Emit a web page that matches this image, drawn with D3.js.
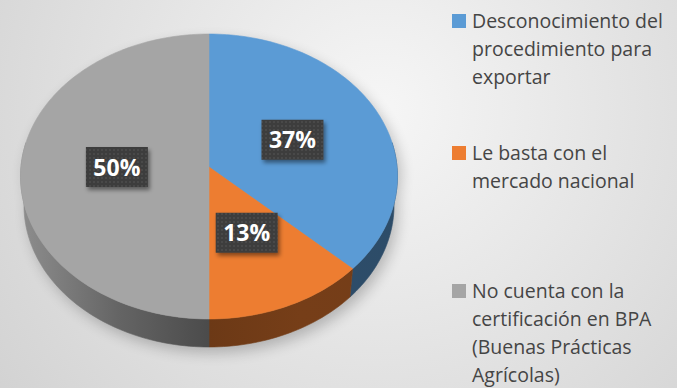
<!DOCTYPE html>
<html>
<head>
<meta charset="utf-8">
<script src="https://cdn.jsdelivr.net/npm/d3@7"></script>
<style>
  html, body { margin: 0; padding: 0; overflow: hidden; }
  svg { display: block; }
</style>
</head>
<body>
<svg id="chart" width="677" height="388"></svg>
<script>
// Survey: reasons for not exporting
const categories = [
  "Desconocimiento del procedimiento para exportar",
  "Le basta con el mercado nacional",
  "No cuenta con la certificación en BPA (Buenas Prácticas Agrícolas)"
];
const legendLines = [
  ["Desconocimiento del", "procedimiento para", "exportar"],
  ["Le basta con el", "mercado nacional"],
  ["No cuenta con la", "certificación en BPA", "(Buenas Prácticas", "Agrícolas)"]
];
const values = [37, 13, 50];
const colors = ["#5b9bd5", "#ed7d31", "#a5a5a5"];

const W = 677, H = 388;
const svg = d3.select("#chart");
const defs = svg.append("defs");

// Background wash
const bg = defs.append("radialGradient").attr("id", "bg")
  .attr("gradientUnits", "userSpaceOnUse")
  .attr("cx", 380).attr("cy", 110).attr("r", 480);
bg.append("stop").attr("offset", 0).attr("stop-color", "#f6f6f6");
bg.append("stop").attr("offset", 1).attr("stop-color", "#d2d2d2");
svg.append("rect").attr("width", W).attr("height", H).attr("fill", "url(#bg)");

// Perspective projection of the tilted disc
const cx = 209, cy = 167;
const tilt = Math.asin(0.7543);
const cs = Math.cos(tilt), sn = Math.sin(tilt);
const camD = 9.85, focal = 1852, thick = 0.2386;
function proj(a, r, y) {
  const X = r * Math.sin(a), Z = -r * Math.cos(a);
  const u = y * cs - Z * sn;
  const v = y * sn + Z * cs;
  const dist = camD - v;
  return [cx + focal * X / dist, cy - focal * u / dist];
}
function rim(a0, a1, y, n) {
  const pts = [];
  for (let i = 0; i <= n; i++) pts.push(proj(a0 + (a1 - a0) * i / n, 1, y));
  return pts;
}

const pie = d3.pie().sort(null).value(d => d)(values);
const line = d3.line();

// Soft shadow under the disc
defs.append("filter").attr("id", "blurShadow")
  .attr("x", "-20%").attr("y", "-20%").attr("width", "140%").attr("height", "140%")
  .append("feGaussianBlur").attr("stdDeviation", 7);
const silhouette = rim(-Math.PI / 2, Math.PI / 2, 0, 80)
  .concat(rim(Math.PI / 2, 3 * Math.PI / 2, -thick, 80));
svg.append("path")
  .attr("d", line(silhouette) + "Z")
  .attr("transform", "translate(4,6)")
  .attr("fill", "#000").attr("opacity", 0.22)
  .attr("filter", "url(#blurShadow)");

// Side wall shading along x
const shadeStops = [[22, 0.45], [120, 1.4], [209, 2.2], [300, 1.95], [400, 2.0]];
pie.forEach((d, i) => {
  const g = defs.append("linearGradient").attr("id", "wall" + i)
    .attr("gradientUnits", "userSpaceOnUse")
    .attr("x1", 22).attr("x2", 400).attr("y1", 0).attr("y2", 0);
  shadeStops.forEach(([x, k]) => {
    g.append("stop").attr("offset", (x - 22) / 378)
      .attr("stop-color", d3.color(colors[i]).darker(k).formatHex());
  });
});

// Front walls
const lo = 80 * Math.PI / 180, hi = 280 * Math.PI / 180;
const walls = svg.append("g");
pie.forEach((d, i) => {
  const a0 = Math.max(d.startAngle, lo), a1 = Math.min(d.endAngle, hi);
  if (a1 <= a0) return;
  const n = Math.max(4, Math.round((a1 - a0) * 40));
  const pts = rim(a0, a1, 0, n).concat(rim(a1, a0, -thick, n));
  walls.append("path").attr("d", line(pts) + "Z")
    .attr("fill", `url(#wall${i})`)
    .attr("stroke", `url(#wall${i})`).attr("stroke-width", 0.6);
});

// Top faces
const tops = svg.append("g");
pie.forEach((d, i) => {
  const n = Math.max(4, Math.round((d.endAngle - d.startAngle) * 40));
  const pts = [proj(0, 0, 0)].concat(rim(d.startAngle, d.endAngle, 0, n));
  tops.append("path").attr("d", line(pts) + "Z")
    .attr("fill", colors[i])
    .attr("stroke", colors[i]).attr("stroke-width", 0.6);
});

// Data label boxes
const pat = defs.append("pattern").attr("id", "dots")
  .attr("patternUnits", "userSpaceOnUse").attr("width", 4).attr("height", 4);
pat.append("rect").attr("width", 4).attr("height", 4).attr("fill", "#3d3d3d");
pat.append("circle").attr("cx", 2).attr("cy", 2).attr("r", 0.7).attr("fill", "#5c5c5c");
const ds = defs.append("filter").attr("id", "boxShadow")
  .attr("x", "-30%").attr("y", "-30%").attr("width", "170%").attr("height", "170%");
ds.append("feDropShadow").attr("dx", 2).attr("dy", 3).attr("stdDeviation", 2)
  .attr("flood-color", "#000").attr("flood-opacity", 0.45);

const labels = svg.append("g");
pie.forEach(d => {
  const mid = (d.startAngle + d.endAngle) / 2;
  const [lx, ly] = proj(mid, 0.49, 0);
  const bw = 62, bh = 40;
  labels.append("rect")
    .attr("x", lx - bw / 2).attr("y", ly - bh / 2)
    .attr("width", bw).attr("height", bh)
    .attr("fill", "url(#dots)").attr("filter", "url(#boxShadow)");
  labels.append("text")
    .attr("x", lx).attr("y", ly + 8.5)
    .attr("text-anchor", "middle")
    .attr("font-family", "'Open Sans', sans-serif")
    .attr("font-weight", 700).attr("font-size", 23)
    .attr("fill", "#ffffff")
    .text(d.data + "%");
});

// Legend
const legendTop = [28, 160, 298];
const lineGap = 28;
const legend = svg.append("g");
legendLines.forEach((lines, i) => {
  const base = legendTop[i];
  legend.append("rect")
    .attr("x", 452).attr("y", base - 14).attr("width", 14).attr("height", 14)
    .attr("fill", colors[i]);
  const t = legend.append("text")
    .attr("font-family", "'Open Sans', sans-serif")
    .attr("font-size", 19.5).attr("fill", "#454545");
  lines.forEach((s, j) => {
    t.append("tspan").attr("x", 472).attr("y", base + j * lineGap).text(s);
  });
  t.append("title").text(categories[i]);
});
</script>
</body>
</html>
